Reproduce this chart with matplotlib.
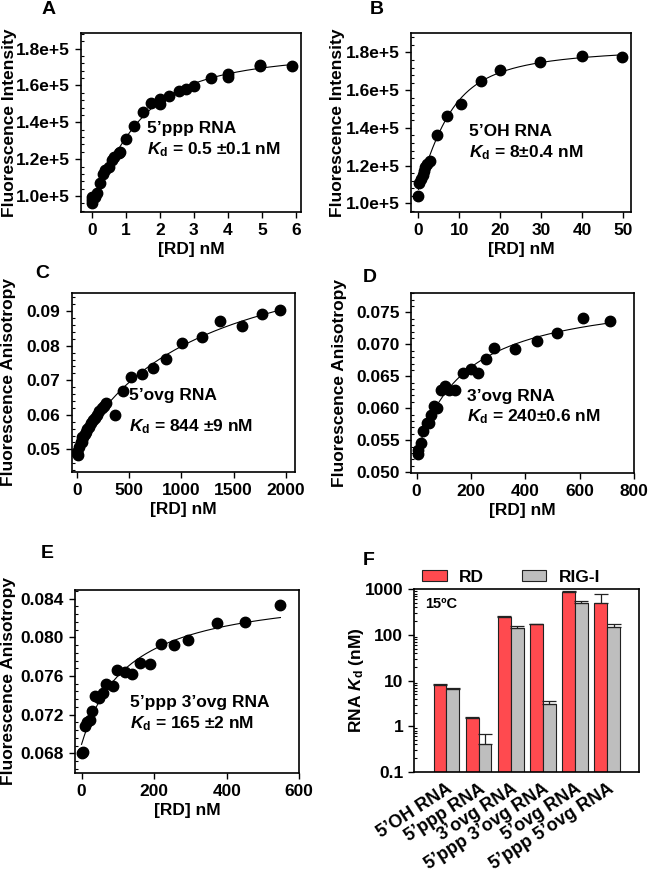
import numpy as np
import matplotlib
matplotlib.use('Agg')
import matplotlib.pyplot as plt
from matplotlib.ticker import FixedLocator, AutoMinorLocator, FormatStrFormatter, LogLocator, NullFormatter
from matplotlib.patches import Patch

plt.rcParams['font.family'] = ['Liberation Sans', 'DejaVu Sans']
plt.rcParams['font.weight'] = 'bold'
plt.rcParams['mathtext.fontset'] = 'custom'
plt.rcParams['mathtext.rm'] = 'Liberation Sans:bold'
plt.rcParams['mathtext.it'] = 'Liberation Sans:italic:bold'
plt.rcParams['mathtext.bf'] = 'Liberation Sans:bold'

FS = 12.5

# ---- data ----
# A: 5'ppp RNA, fluorescence intensity (x 1e5)
a_x = [0, 0, 0, 0.1, 0.15, 0.24, 0.34, 0.39, 0.49, 0.59, 0.64, 0.79, 0.83, 1.01, 1.25,
       1.5, 1.73, 2.0, 2.0, 2.28, 2.56, 2.76, 3.01, 3.49, 3.99, 3.99, 4.94, 4.94, 5.87]
a_y = [0.96, 0.98, 0.997, 0.997, 1.015, 1.069, 1.12, 1.14, 1.16, 1.195, 1.213, 1.232,
       1.241, 1.308, 1.38, 1.456, 1.503, 1.50, 1.527, 1.545, 1.572, 1.581, 1.597, 1.643,
       1.644, 1.662, 1.705, 1.711, 1.708]

# B: 5'OH RNA
b_x = [0, 0.25, 0.6, 1.0, 1.3, 1.7, 2.0, 2.7, 4.5, 6.9, 10.4, 15.2, 19.9, 29.8, 40.0, 49.8]
b_y = [1.04, 1.11, 1.13, 1.15, 1.17, 1.19, 1.21, 1.225, 1.364, 1.465, 1.527, 1.65,
       1.705, 1.749, 1.779, 1.776]

# C: 5'ovg RNA, anisotropy
c_x = [0, 6, 16, 25, 40, 48, 55, 64, 75, 89, 100, 121, 140, 159, 175, 191, 210, 239,
       260, 280, 366, 446, 519, 621, 726, 850, 1003, 1195, 1369, 1576, 1768, 1943]
c_y = [0.0488, 0.0493, 0.0483, 0.0508, 0.052, 0.0522, 0.0535, 0.0537, 0.0545, 0.055,
       0.056, 0.0565, 0.0575, 0.0584, 0.059, 0.0599, 0.061, 0.0621, 0.0625, 0.0633,
       0.0599, 0.0670, 0.0711, 0.0719, 0.0737, 0.0761, 0.0808, 0.0825, 0.0873, 0.0858,
       0.0893, 0.0903]

# D: 3'ovg RNA
d_x = [4, 6, 15, 25, 37, 45, 52, 64, 76, 88, 104, 119, 141, 169, 199, 227, 254, 285,
       362, 442, 518, 614, 712]
d_y = [0.0528, 0.0535, 0.0545, 0.0564, 0.0577, 0.0577, 0.0590, 0.0603, 0.0601, 0.0629,
       0.0635, 0.0629, 0.0629, 0.0655, 0.0661, 0.0655, 0.0677, 0.0695, 0.0693, 0.0705,
       0.0718, 0.0741, 0.0736]

# E: 5'ppp 3'ovg RNA
e_x = [0, 5, 9, 16, 23, 30, 37, 49, 58, 67, 87, 98, 119, 140, 160, 189, 218, 256, 294,
       373, 451, 548]
e_y = [0.0680, 0.0681, 0.0708, 0.0712, 0.0715, 0.0724, 0.0739, 0.0737, 0.0742, 0.0752,
       0.0750, 0.0766, 0.0764, 0.0762, 0.0773, 0.0772, 0.0793, 0.0792, 0.0797, 0.0815,
       0.0816, 0.0833]

# F: Kd summary at 15 C
f_labels = ['5’OH RNA', '5’ppp RNA', '3’ovg RNA', '5’ppp 3’ovg RNA', '5’ovg RNA',
            '5’ppp 5’ovg RNA']
f_rd = [7.9, 1.5, 252, 174, 889, 493]
f_rd_err = [0.7, 0.13, 6, 3, 10, 300]
f_rig = [6.6, 0.42, 140, 3.08, 510, 152]
f_rig_err = [0.15, 0.26, 18, 0.42, 45, 18]


def bound_fraction(x, K, P):
    # quadratic (tight) binding; P -> 0 gives the simple hyperbola
    if P <= 0:
        return x / (K + x)
    s = P + x + K
    return (s - np.sqrt(s * s - 4 * P * x)) / (2 * P)


def fit_binding(x, y):
    x = np.asarray(x, float)
    y = np.asarray(y, float)
    best = None
    for P in np.concatenate([[0], np.logspace(np.log10(max(x) * 0.01), np.log10(max(x)), 30)]):
        for K in np.logspace(np.log10(max(x) * 0.005), np.log10(max(x) * 20), 300):
            M = np.column_stack([np.ones_like(x), bound_fraction(x, K, P)])
            coef, *_ = np.linalg.lstsq(M, y, rcond=None)
            r = np.sum((M @ coef - y) ** 2)
            if best is None or r < best[0]:
                best = (r, K, P, coef)
    _, K, P, (y0, A) = best
    xs = np.linspace(min(x), max(x), 300)
    return xs, y0 + A * bound_fraction(xs, K, P)


fig = plt.figure(figsize=(6.61, 8.71), dpi=100)

def style(ax):
    for s in ax.spines.values():
        s.set_linewidth(1.2)
    ax.tick_params(axis='both', which='major', direction='out', length=4, width=1.0,
                   labelsize=FS, pad=4)
    ax.tick_params(axis='y', which='minor', direction='in', length=2.5, width=0.8)
    ax.tick_params(axis='x', which='minor', bottom=False)

def binding_panel(rect, x, y, xlim, ylim, xticks, yticks, yfmt, ylabel, label1, label2,
                  tpos, ylab_x):
    ax = fig.add_axes(rect)
    xs, ys = fit_binding(x, y)
    ax.plot(xs, ys, color='black', lw=0.8, zorder=2)
    ax.plot(x, y, 'o', color='black', ms=7.5, zorder=3)
    ax.set_xlim(*xlim)
    ax.set_ylim(*ylim)
    ax.xaxis.set_major_locator(FixedLocator(xticks))
    ax.yaxis.set_major_locator(FixedLocator(yticks))
    ax.yaxis.set_minor_locator(AutoMinorLocator(5))
    ax.yaxis.set_major_formatter(yfmt)
    style(ax)
    ax.set_xlabel('[RD] nM', fontsize=FS, fontweight='bold', labelpad=3)
    ax.set_ylabel(ylabel, fontsize=FS, fontweight='bold')
    ax.yaxis.set_label_coords(ylab_x, 0.5)
    ax.text(tpos[0], tpos[1], label1, transform=ax.transAxes, fontsize=FS,
            fontweight='bold', va='center')
    ax.text(tpos[0], tpos[2], label2, transform=ax.transAxes, fontsize=FS,
            fontweight='bold', va='center')
    return ax

e5fmt = FormatStrFormatter('%.1fe+5')

binding_panel([0.1225, 0.7566, 0.333, 0.2055], a_x, a_y, (-0.32, 6.15), (0.913, 1.885),
              range(0, 7), [1.0, 1.2, 1.4, 1.6, 1.8], e5fmt, 'Fluorescence Intensity',
              '5’ppp RNA', r'$K_{\mathrm{d}}$ = 0.5 ±0.1 nM', (0.30, 0.469, 0.346), -0.29)

binding_panel([0.6213, 0.7566, 0.3333, 0.2055], b_x, b_y, (-1.9, 51.9), (0.954, 1.903),
              range(0, 51, 10), [1.0, 1.2, 1.4, 1.6, 1.8], e5fmt, 'Fluorescence Intensity',
              '5’OH RNA', r'$K_{\mathrm{d}}$ = 8±0.4 nM', (0.265, 0.449, 0.33), -0.298)

binding_panel([0.1085, 0.4584, 0.3378, 0.2052], c_x, c_y, (-48, 2086), (0.0435, 0.0953),
              range(0, 2001, 500), [0.05, 0.06, 0.07, 0.08, 0.09], FormatStrFormatter('%.2f'),
              'Fluorescence Anisotropy', '5’ovg RNA', r'$K_{\mathrm{d}}$ = 844 ±9 nM',
              (0.255, 0.429, 0.252), -0.25)

binding_panel([0.6213, 0.4573, 0.3378, 0.206], d_x, d_y, (-22, 800), (0.0499, 0.078),
              range(0, 801, 200), [0.050, 0.055, 0.060, 0.065, 0.070, 0.075],
              FormatStrFormatter('%.3f'), 'Fluorescence Anisotropy', '3’ovg RNA',
              r'$K_{\mathrm{d}}$ = 240±0.6 nM', (0.25, 0.424, 0.312), -0.285)

binding_panel([0.1135, 0.1129, 0.3393, 0.2097], e_x, e_y, (-18, 600), (0.066, 0.0849),
              range(0, 601, 200), [0.068, 0.072, 0.076, 0.080, 0.084],
              FormatStrFormatter('%.3f'), 'Fluorescence Anisotropy', '5’ppp 3’ovg RNA',
              r'$K_{\mathrm{d}}$ = 165 ±2 nM', (0.245, 0.383, 0.27), -0.262)

# F: bar chart, log scale
axf = fig.add_axes([0.6268, 0.1137, 0.3404, 0.2097])
idx = np.arange(len(f_labels))
w = 0.4
red = '#FF4A4F'
grey = '#BEBEBE'
axf.bar(idx - w / 2, f_rd, w, color=red, edgecolor='#222222', linewidth=0.8,
        yerr=[np.zeros(len(f_rd)), f_rd_err], capsize=5,
        error_kw=dict(ecolor='#222222', elinewidth=0.9, capthick=0.9))
axf.bar(idx + w / 2, f_rig, w, color=grey, edgecolor='#222222', linewidth=0.8,
        yerr=[np.zeros(len(f_rig)), f_rig_err], capsize=5,
        error_kw=dict(ecolor='#222222', elinewidth=0.9, capthick=0.9))
axf.set_yscale('log')
axf.set_ylim(0.1, 1000)
axf.set_xlim(-1, 6)
axf.yaxis.set_major_locator(FixedLocator([0.1, 1, 10, 100, 1000]))
axf.yaxis.set_major_formatter(FormatStrFormatter('%g'))
axf.yaxis.set_minor_locator(LogLocator(base=10, subs=np.arange(2, 10)))
axf.yaxis.set_minor_formatter(NullFormatter())
style(axf)
axf.set_xticks(idx)
axf.set_xticklabels(f_labels, rotation=33, ha='right', rotation_mode='anchor', fontsize=13)
axf.tick_params(axis='x', which='major', length=0, pad=6)
axf.set_ylabel(r'RNA $K_{\mathrm{d}}$ (nM)', fontsize=FS, fontweight='bold')
axf.yaxis.set_label_coords(-0.215, 0.5)
axf.text(0.048, 0.92, '15ºC', transform=axf.transAxes, fontsize=10.5, fontweight='bold',
         va='center')
handles = [Patch(facecolor=red, edgecolor='#222222', linewidth=0.8, label='RD'),
           Patch(facecolor=grey, edgecolor='#222222', linewidth=0.8, label='RIG-I')]
axf.legend(handles=handles, ncol=2, loc='center', bbox_to_anchor=(0.43, 1.065),
           frameon=False, fontsize=FS, handlelength=1.4, handleheight=0.6,
           columnspacing=2.2, borderpad=0, borderaxespad=0, handletextpad=0.7)

# panel letters
for lab, (px, py) in zip('ABCDEF', [(49, 10), (377, 9), (42, 274), (370, 278),
                                     (47, 554), (369, 560)]):
    fig.text(px / 661, 1 - py / 871, lab, fontsize=14, fontweight='bold',
             ha='center', va='center')

fig.savefig('out.png', dpi=100)
